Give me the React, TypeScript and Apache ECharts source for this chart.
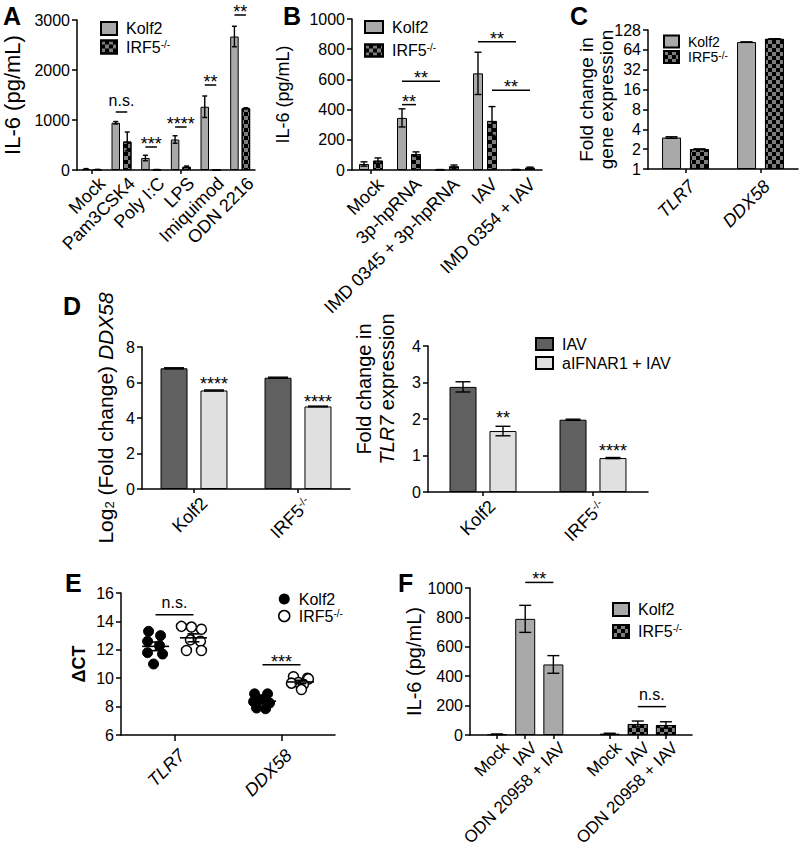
import React, { useEffect, useRef } from 'react';
import * as echarts from 'echarts';

const FONT = '"Liberation Sans", Arial, Helvetica, sans-serif';

// ---------- Panel A ----------
const catsA = ['Mock', 'Pam3CSK4', 'Poly I:C', 'LPS', 'Imiquimod', 'ODN 2216'];
const kolfA = [20, 945, 240, 610, 1265, 2670];
const kolfAErr = [8, 25, 55, 75, 215, 205];
const irfA = [10, 570, 8, 65, 0, 1235];
const irfAErr = [4, 190, 3, 15, 0, 10];
const sigA = [
  { c1: 1, o1: -1, c2: 1, o2: 1, y: 1160, text: 'n.s.', line: true },
  { c1: 2, o1: -1, c2: 2, o2: 1, y: 460, text: '***', line: true },
  { c1: 3, o1: -1, c2: 3, o2: 1, y: 860, text: '****', line: true },
  { c1: 4, o1: -1, c2: 4, o2: 1, y: 1700, text: '**', line: true },
  { c1: 5, o1: -1, c2: 5, o2: 1, y: 3100, text: '**', line: true },
];

// ---------- Panel B ----------
const catsB = ['Mock', '3p-hpRNA', 'IMD 0345 + 3p-hpRNA', 'IAV', 'IMD 0354 + IAV'];
const kolfB = [40, 345, 2, 640, 3];
const kolfBErr = [14, 60, 1, 140, 1];
const irfB = [62, 105, 24, 325, 15];
const irfBErr = [18, 15, 9, 95, 4];
const sigB = [
  { c1: 1, o1: -1, c2: 1, o2: 1, y: 433, text: '**', line: true },
  { c1: 1, o1: -1, c2: 2, o2: -1, y: 588, text: '**', line: true },
  { c1: 3, o1: -1, c2: 4, o2: -1, y: 849, text: '**', line: true },
  { c1: 3, o1: 1, c2: 4, o2: 1, y: 528, text: '**', line: true },
];

// ---------- Panel C ----------
const catsC = ['TLR7', 'DDX58'];
const kolfC = [3.0, 84];
const kolfCErr = [0.08, 0.5];
const irfC = [2.0, 94];
const irfCErr = [0.02, 0.5];

// ---------- Panel D ----------
const catsD = ['Kolf2', 'IRF5'];
const dLeftIAV = [6.8, 6.27];
const dLeftIAVErr = [0.03, 0.03];
const dLeftAnti = [5.55, 4.65];
const dLeftAntiErr = [0.03, 0.02];
const sigDLeft = [
  { c1: 0, o1: 1, c2: 0, o2: 1, y: 5.73, text: '****', line: false },
  { c1: 1, o1: 1, c2: 1, o2: 1, y: 4.72, text: '****', line: false },
];
const dRightIAV = [2.88, 1.98];
const dRightIAVErr = [0.14, 0.015];
const dRightAnti = [1.67, 0.93];
const dRightAntiErr = [0.13, 0.015];
const sigDRight = [
  { c1: 0, o1: 1, c2: 0, o2: 1, y: 1.94, text: '**', line: false },
  { c1: 1, o1: 1, c2: 1, o2: 1, y: 1.05, text: '****', line: false },
];

// ---------- Panel E ----------
const catsE = ['TLR7', 'DDX58'];
const eKolfTLR7 = [13.3, 13.0, 12.6, 12.3, 11.8, 11.7, 11.0];
const eIrfTLR7 = [13.65, 13.6, 13.45, 12.7, 12.6, 11.95, 11.95];
const eKolfDDX = [8.9, 8.9, 8.5, 8.35, 8.25, 7.9, 7.85];
const eIrfDDX = [10.1, 10.0, 9.95, 9.7, 9.65, 9.55, 9.2];
// horizontal scatter jitter (px) inside each group
const jitKolfTLR7 = [-7, 5, -8, 4, -8, 7, -2];
const jitIrfTLR7 = [-12, -2, 8, -3, 7, -7, 8];
const jitKolfDDX = [-8, 5, -2, -9, 7, -6, 3];
const jitIrfDDX = [-7, 7, 8, -2, -9, 3, 1];
const sigE = [
  { c1: 0, o1: -1, c2: 0, o2: 1, y: 14.47, text: 'n.s.', line: true },
  { c1: 1, o1: -1, c2: 1, o2: 1, y: 10.94, text: '***', line: true },
];

// ---------- Panel F ----------
const catsF = ['Mock', 'IAV', 'ODN 20958 + IAV', '', 'Mock', 'IAV', 'ODN 20958 + IAV'];
const kolfF = [5, 790, 480, null, null, null, null];
const kolfFErr = [2, 92, 60, 0, 0, 0, 0];
const irfF = [null, null, null, null, 8, 75, 68];
const irfFErr = [0, 0, 0, 0, 4, 20, 22];
const sigF = [
  { c1: 1, o1: 0, c2: 2, o2: 0, y: 1038, text: '**', line: true },
  { c1: 5, o1: 0, c2: 6, o2: 0, y: 193, text: 'n.s.', line: true },
];

// ---------- styles ----------
const BLACK = '#000';
const KOLF = '#a9a9a9';
const CHK_BASE = '#7d7d7d';
const DARK = '#606060';
const LIGHT = '#e0e0e0';
const checkerDecal = {
  symbol: 'rect',
  symbolSize: 1,
  dashArrayX: [[4, 4], [0, 4, 4, 0]],
  dashArrayY: [4, 0],
  color: '#000',
  rotation: 0,
};
const kolfStyle = { color: KOLF, borderColor: BLACK, borderWidth: 1 };
const irfStyle = { color: CHK_BASE, borderColor: BLACK, borderWidth: 1, decal: checkerDecal };
const darkStyle = { color: DARK, borderColor: BLACK, borderWidth: 1 };
const lightStyle = { color: LIGHT, borderColor: BLACK, borderWidth: 1 };

const supRich = {
  s: { fontSize: 10, fontFamily: FONT, color: BLACK, verticalAlign: 'top', lineHeight: 10 },
};
const supRich18 = {
  s: { fontSize: 11, fontFamily: FONT, fill: BLACK, color: BLACK, verticalAlign: 'top', lineHeight: 11 },
};

const AX_LINE = { show: true, lineStyle: { color: BLACK, width: 1.5 } };
const Y_TICK = { show: true, inside: false, length: 5, lineStyle: { color: BLACK, width: 1.5 } };

function yVal(grid: number, min: number, max: number, interval: number, name: string, nameGap: number, nameStyle: any, extra: any = {}) {
  return {
    type: 'value',
    gridIndex: grid,
    min,
    max,
    interval,
    axisLine: AX_LINE,
    axisTick: Y_TICK,
    splitLine: { show: false },
    axisLabel: { fontSize: 16, color: BLACK, fontFamily: FONT, margin: 7, formatter: (v: number) => String(v) },
    name,
    nameLocation: 'middle',
    nameRotate: 90,
    nameGap,
    nameMoveOverlap: false,
    nameTextStyle: { color: BLACK, fontFamily: FONT, ...nameStyle },
    ...extra,
  };
}

function xCat(grid: number, data: string[], tickLen = 4, extra: any = {}) {
  return {
    type: 'category',
    gridIndex: grid,
    data,
    axisLine: AX_LINE,
    axisTick: { show: true, alignWithLabel: true, length: tickLen, lineStyle: { color: BLACK, width: 1.5 } },
    splitLine: { show: false },
    axisLabel: { show: false },
    ...extra,
  };
}

// rotated (45°) category labels, anchored at their top-right corner below each tick
function catLabels(grid: number, cats: string[], yMin: number, dx: number, dy: number, italic = false, fontSize = 18) {
  return {
    type: 'custom',
    xAxisIndex: grid,
    yAxisIndex: grid,
    silent: true,
    clip: false,
    z: 10,
    data: cats.map((c, i) => [i, yMin]),
    renderItem: (params: any, api: any) => {
      const name = cats[params.dataIndex];
      if (!name) return null;
      const p = api.coord([api.value(0), api.value(1)]);
      const txt = name === 'IRF5' ? 'IRF5{s|-/-}' : name;
      return {
        type: 'text',
        x: p[0] + dx,
        y: p[1] + dy,
        rotation: Math.PI / 4,
        style: {
          text: txt,
          align: 'right',
          verticalAlign: 'top',
          textAlign: 'right',
          textVerticalAlign: 'top',
          fontSize,
          fontFamily: FONT,
          fontStyle: italic ? 'italic' : 'normal',
          fill: BLACK,
          rich: supRich18,
        },
      };
    },
  };
}

function bar(name: string, grid: number, data: any[], style: any, barWidth: number, barGap: string) {
  return {
    type: 'bar',
    name,
    xAxisIndex: grid,
    yAxisIndex: grid,
    data,
    itemStyle: style,
    barWidth,
    barGap,
    silent: true,
    z: 2,
  };
}

function errBars(grid: number, vals: any[], errs: number[], offset: number, capW: number, floor: number) {
  const data: any[] = [];
  vals.forEach((v, i) => {
    if (v != null && errs[i] > 0) data.push([i, v, errs[i]]);
  });
  return {
    type: 'custom',
    xAxisIndex: grid,
    yAxisIndex: grid,
    silent: true,
    z: 5,
    clip: false,
    data,
    renderItem: (params: any, api: any) => {
      const i = api.value(0);
      const v = api.value(1);
      const e = api.value(2);
      const top = api.coord([i, v + e]);
      const bot = api.coord([i, Math.max(v - e, floor)]);
      const x = top[0] + offset;
      const st = { stroke: BLACK, lineWidth: 1.4 };
      return {
        type: 'group',
        children: [
          { type: 'line', shape: { x1: x, y1: top[1], x2: x, y2: bot[1] }, style: st },
          { type: 'line', shape: { x1: x - capW / 2, y1: top[1], x2: x + capW / 2, y2: top[1] }, style: st },
          { type: 'line', shape: { x1: x - capW / 2, y1: bot[1], x2: x + capW / 2, y2: bot[1] }, style: st },
        ],
      };
    },
  };
}

function sigSeries(grid: number, items: any[], half: number) {
  return {
    type: 'custom',
    xAxisIndex: grid,
    yAxisIndex: grid,
    silent: true,
    z: 6,
    clip: false,
    data: items.map((s) => [s.c1, s.y]),
    renderItem: (params: any, api: any) => {
      const s = items[params.dataIndex];
      const a = api.coord([s.c1, s.y]);
      const b = api.coord([s.c2, s.y]);
      const x1 = a[0] + s.o1 * half;
      const x2 = b[0] + s.o2 * half;
      const isNs = s.text === 'n.s.';
      const children: any[] = [];
      if (s.line) {
        children.push({ type: 'line', shape: { x1, y1: a[1], x2, y2: a[1] }, style: { stroke: BLACK, lineWidth: 1.5 } });
      }
      children.push({
        type: 'text',
        style: {
          text: s.text,
          x: (x1 + x2) / 2,
          y: a[1] - (isNs ? 12 : 3),
          align: 'center',
          verticalAlign: 'middle',
          textAlign: 'center',
          textVerticalAlign: 'middle',
          fontSize: isNs ? 16 : 18,
          fontFamily: FONT,
          fill: BLACK,
        },
      });
      return { type: 'group', children };
    },
  };
}

function meanOf(a: number[]) {
  return a.reduce((s, v) => s + v, 0) / a.length;
}
function semOf(a: number[]) {
  const m = meanOf(a);
  const v = a.reduce((s, x) => s + (x - m) * (x - m), 0) / (a.length - 1);
  return Math.sqrt(v / a.length);
}

function scatterE(name: string, groups: { cat: number; vals: number[]; jit: number[] }[], side: number, filled: boolean) {
  const data: any[] = [];
  groups.forEach((g) => g.vals.forEach((v, k) => data.push([g.cat, v, g.jit[k]])));
  const style = filled
    ? { fill: BLACK, stroke: BLACK, lineWidth: 1 }
    : { fill: '#fff', stroke: BLACK, lineWidth: 1.5 };
  return {
    type: 'custom',
    name,
    xAxisIndex: 5,
    yAxisIndex: 5,
    silent: true,
    z: 3,
    itemStyle: filled ? { color: BLACK } : { color: '#fff', borderColor: BLACK, borderWidth: 1.5 },
    data,
    renderItem: (params: any, api: any) => {
      const c = api.coord([api.value(0), api.value(1)]);
      const band = api.size([1, 0])[0];
      return {
        type: 'circle',
        shape: { cx: c[0] + side * band * 0.177 + api.value(2), cy: c[1], r: 5 },
        style,
      };
    },
  };
}

function meanE(groups: { cat: number; vals: number[]; side: number }[]) {
  const data = groups.map((g) => [g.cat, meanOf(g.vals), semOf(g.vals), g.side]);
  return {
    type: 'custom',
    xAxisIndex: 5,
    yAxisIndex: 5,
    silent: true,
    z: 8,
    data,
    renderItem: (params: any, api: any) => {
      const cat = api.value(0);
      const m = api.value(1);
      const se = api.value(2);
      const side = api.value(3);
      const band = api.size([1, 0])[0];
      const pm = api.coord([cat, m]);
      const pt = api.coord([cat, m + se]);
      const pb = api.coord([cat, m - se]);
      const x = pm[0] + side * band * 0.177;
      const st = { stroke: BLACK, lineWidth: 1.6 };
      return {
        type: 'group',
        children: [
          { type: 'line', shape: { x1: x - 13.5, y1: pm[1], x2: x + 13.5, y2: pm[1] }, style: st },
          { type: 'line', shape: { x1: x, y1: pt[1], x2: x, y2: pb[1] }, style: st },
          { type: 'line', shape: { x1: x - 6, y1: pt[1], x2: x + 6, y2: pt[1] }, style: st },
          { type: 'line', shape: { x1: x - 6, y1: pb[1], x2: x + 6, y2: pb[1] }, style: st },
        ],
      };
    },
  };
}

const legendLabels: Record<string, string> = {
  'A-Kolf2': 'Kolf2',
  'A-IRF5': 'IRF5{s|-/-}',
  'B-Kolf2': 'Kolf2',
  'B-IRF5': 'IRF5{s|-/-}',
  'C-Kolf2': 'Kolf2',
  'C-IRF5': 'IRF5{s|-/-}',
  'D-IAV': 'IAV',
  'D-anti': 'aIFNAR1 + IAV',
  'E-Kolf2': 'Kolf2',
  'E-IRF5': 'IRF5{s|-/-}',
  'F-Kolf2': 'Kolf2',
  'F-IRF5': 'IRF5{s|-/-}',
};

function legendBox(data: any[], left: number, top: number, w: number, h: number, gap: number, fontSize: number, icon = 'rect') {
  return {
    show: true,
    orient: 'vertical',
    left,
    top,
    itemWidth: w,
    itemHeight: h,
    itemGap: gap,
    icon,
    padding: 0,
    selectedMode: false,
    data,
    formatter: (n: string) => legendLabels[n] || n,
    textStyle: {
      fontSize,
      fontFamily: FONT,
      color: BLACK,
      lineHeight: fontSize,
      padding: [0, 0, 0, 4],
      rich: supRich,
    },
  };
}

function buildOption() {
  // grid geometry
  const grids = [
    { left: 77, top: 20, width: 178, height: 150 }, // 0 A
    { left: 352, top: 19, width: 190, height: 151 }, // 1 B
    { left: 648, top: 30, width: 150, height: 139 }, // 2 C
    { left: 142, top: 347, width: 208, height: 142 }, // 3 D left
    { left: 428, top: 346, width: 220, height: 146 }, // 4 D right
    { left: 121, top: 593, width: 214, height: 142 }, // 5 E
    { left: 470, top: 588, width: 222, height: 147 }, // 6 F frame
    { left: 483, top: 588, width: 197, height: 147 }, // 7 F data
  ];

  const xAxis = [
    xCat(0, catsA),
    xCat(1, catsB),
    xCat(2, catsC),
    xCat(3, catsD),
    xCat(4, catsD),
    xCat(5, catsE, 6),
    { type: 'category', gridIndex: 6, data: [''], axisLine: AX_LINE, axisTick: { show: false }, axisLabel: { show: false }, splitLine: { show: false } },
    xCat(7, catsF, 4, { axisLine: { show: false } }),
  ];
  (xAxis[7] as any).axisTick = {
    show: true,
    alignWithLabel: true,
    length: 4,
    interval: (idx: number, v: string) => v !== '',
    lineStyle: { color: BLACK, width: 1.5 },
  };

  const yAxis = [
    yVal(0, 0, 3000, 1000, 'IL-6 (pg/mL)', 54, { fontSize: 22 }),
    yVal(1, 0, 1000, 200, 'IL-6 (pg/mL)', 60, { fontSize: 18 }),
    {
      ...yVal(2, 1, 128, 1, 'Fold change in\ngene expression', 32, { fontSize: 19, lineHeight: 20 }),
      type: 'log',
      logBase: 2,
      interval: undefined,
      splitNumber: 7,
    },
    yVal(3, 0, 8, 2, 'Log{sub|2} (Fold change) {it|DDX58}', 26, {
      fontSize: 21,
      rich: {
        sub: { fontSize: 13, fontFamily: FONT, color: BLACK, verticalAlign: 'bottom', lineHeight: 13 },
        it: { fontSize: 21, fontFamily: FONT, color: BLACK, fontStyle: 'italic' },
      },
    }),
    yVal(4, 0, 4, 1, 'Fold change in\n{it|TLR7} expression', 30, {
      fontSize: 20,
      lineHeight: 23,
      padding: [0, 0, 0, 60],
      rich: { it: { fontSize: 20, fontFamily: FONT, color: BLACK, fontStyle: 'italic', lineHeight: 23 } },
    }),
    yVal(5, 6, 16, 2, 'ΔCT', 33, { fontSize: 18, fontWeight: 'bold' }),
    yVal(6, 0, 1000, 200, 'IL-6 (pg/mL)', 46, { fontSize: 20 }),
    { ...yVal(7, 0, 1000, 200, '', 0, {}), show: false },
  ];

  const halfA = (8.5 + 3) / 2;
  const halfB = (10 + 4) / 2;
  const halfC = (19 + 9) / 2;
  const halfD = (27 + 13) / 2;

  const series: any[] = [
    // A
    bar('A-Kolf2', 0, kolfA, kolfStyle, 8.5, '35%'),
    bar('A-IRF5', 0, irfA, irfStyle, 8.5, '35%'),
    errBars(0, kolfA, kolfAErr, -halfA, 5, 0),
    errBars(0, irfA, irfAErr, halfA, 5, 0),
    sigSeries(0, sigA, halfA),
    catLabels(0, catsA, 0, 4, 4),
    // B
    bar('B-Kolf2', 1, kolfB, kolfStyle, 10, '40%'),
    bar('B-IRF5', 1, irfB, irfStyle, 10, '40%'),
    errBars(1, kolfB, kolfBErr, -halfB, 7, 0),
    errBars(1, irfB, irfBErr, halfB, 7, 0),
    sigSeries(1, sigB, halfB),
    catLabels(1, catsB, 0, 3, 5),
    // C
    bar('C-Kolf2', 2, kolfC, kolfStyle, 19, '47%'),
    bar('C-IRF5', 2, irfC, irfStyle, 19, '47%'),
    errBars(2, kolfC, kolfCErr, -halfC, 12, 1),
    errBars(2, irfC, irfCErr, halfC, 12, 1),
    catLabels(2, catsC, 1, 0, 8, true),
    // D left
    bar('DL-IAV', 3, dLeftIAV, darkStyle, 27, '48%'),
    bar('DL-anti', 3, dLeftAnti, lightStyle, 27, '48%'),
    errBars(3, dLeftIAV, dLeftIAVErr, -halfD, 20, 0),
    errBars(3, dLeftAnti, dLeftAntiErr, halfD, 20, 0),
    sigSeries(3, sigDLeft, halfD),
    catLabels(3, catsD, 0, 4, 5),
    // D right
    bar('D-IAV', 4, dRightIAV, darkStyle, 27, '48%'),
    bar('D-anti', 4, dRightAnti, lightStyle, 27, '48%'),
    errBars(4, dRightIAV, dRightIAVErr, -halfD, 15, 0),
    errBars(4, dRightAnti, dRightAntiErr, halfD, 15, 0),
    sigSeries(4, sigDRight, halfD),
    catLabels(4, catsD, 0, 3, 5),
    // E
    scatterE('E-Kolf2', [{ cat: 0, vals: eKolfTLR7, jit: jitKolfTLR7 }, { cat: 1, vals: eKolfDDX, jit: jitKolfDDX }], -1, true),
    scatterE('E-IRF5', [{ cat: 0, vals: eIrfTLR7, jit: jitIrfTLR7 }, { cat: 1, vals: eIrfDDX, jit: jitIrfDDX }], 1, false),
    meanE([
      { cat: 0, vals: eKolfTLR7, side: -1 },
      { cat: 0, vals: eIrfTLR7, side: 1 },
      { cat: 1, vals: eKolfDDX, side: -1 },
      { cat: 1, vals: eIrfDDX, side: 1 },
    ]),
    sigSeries(5, sigE, 19),
    catLabels(5, catsE, 6, 1, 11, true),
    // F
    bar('F-Kolf2', 7, kolfF, kolfStyle, 20, '-100%'),
    bar('F-IRF5', 7, irfF, irfStyle, 20, '-100%'),
    errBars(7, kolfF, kolfFErr, 0, 12, 0),
    errBars(7, irfF, irfFErr, 0, 12, 0),
    sigSeries(7, sigF, 0),
    catLabels(7, catsF, 0, 3, 4, false, 17),
  ];

  const legend = [
    legendBox(['A-Kolf2', 'A-IRF5'], 100, 20.5, 16, 13, 2.5, 16),
    legendBox(['B-Kolf2', 'B-IRF5'], 364, 19, 18, 12, 7.5, 16),
    legendBox(['C-Kolf2', 'C-IRF5'], 663, 34.5, 15, 12, 1.5, 14),
    legendBox(['D-IAV', 'D-anti'], 535, 336, 17, 12, 3, 16),
    legendBox(
      [
        { name: 'E-Kolf2', icon: 'circle', itemStyle: { color: BLACK, borderColor: BLACK } },
        { name: 'E-IRF5', icon: 'circle', itemStyle: { color: '#fff', borderColor: BLACK, borderWidth: 1.5 } },
      ],
      278,
      591,
      11,
      11,
      1,
      16,
      'circle'
    ),
    legendBox(['F-Kolf2', 'F-IRF5'], 612, 601.5, 16, 13, 6, 16),
  ];

  const letter = (t: string, x: number, y: number) => ({
    type: 'text',
    left: x,
    top: y,
    style: { text: t, font: 'bold 25px ' + FONT, fill: BLACK },
  });

  return {
    animation: false,
    backgroundColor: '#fff',
    textStyle: { fontFamily: FONT, color: BLACK },
    grid: grids.map((g) => ({ ...g, containLabel: false, show: false })),
    xAxis,
    yAxis,
    legend,
    series,
    graphic: [
      letter('A', 3, 3),
      letter('B', 283, 3),
      letter('C', 570, 3),
      letter('D', 63, 293),
      letter('E', 65, 570),
      letter('F', 398, 570),
    ],
  };
}

export default function App() {
  const ref = useRef<HTMLDivElement>(null);
  useEffect(() => {
    const chart = echarts.init(ref.current as HTMLDivElement, null, { renderer: 'svg' });
    chart.setOption(buildOption() as any);
    return () => chart.dispose();
  }, []);
  return (
    <div
      ref={ref}
      style={{ position: 'absolute', left: 0, top: 0, width: 800, height: 853, background: '#fff' }}
    />
  );
}
